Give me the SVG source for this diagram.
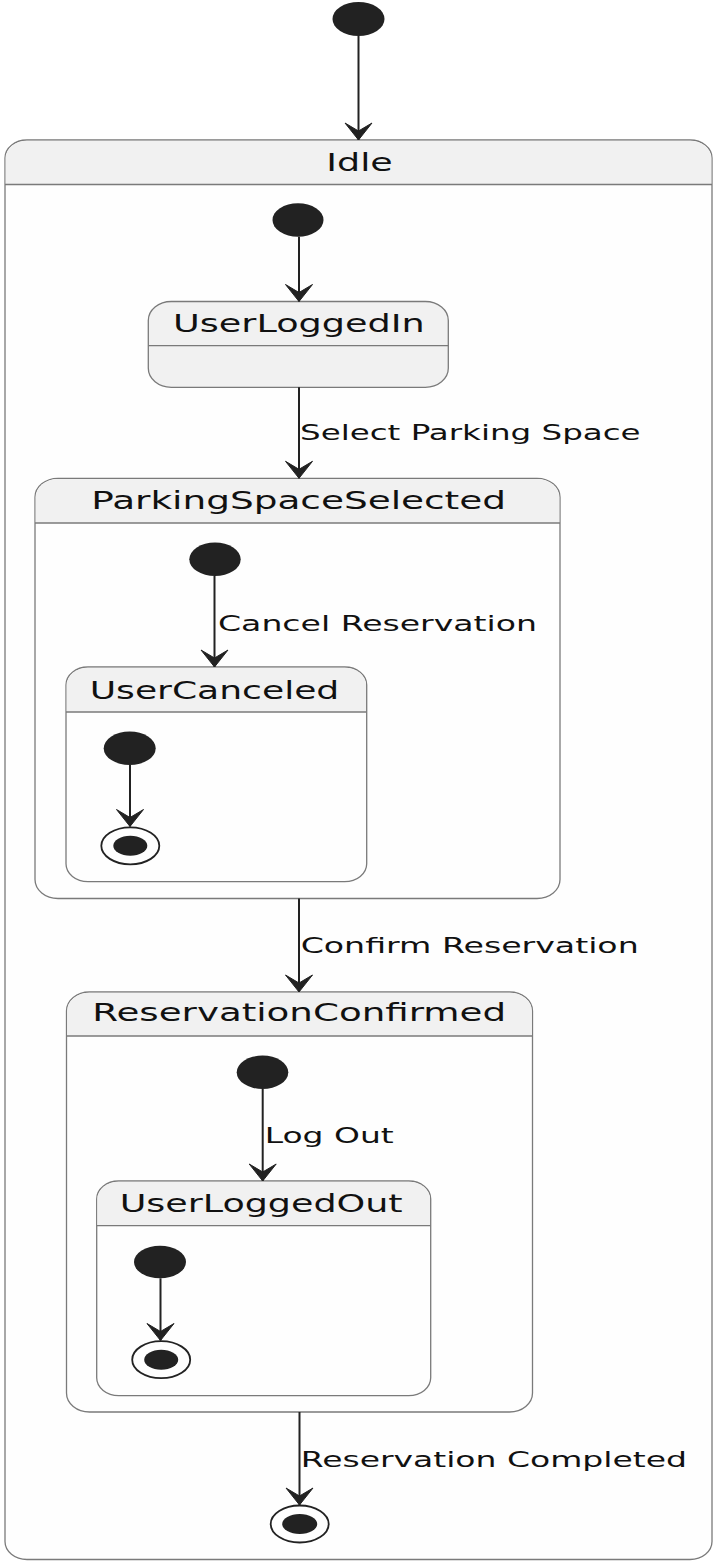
<svg xmlns="http://www.w3.org/2000/svg" width="713" height="1562" viewBox="0 0 713 1562">
  <style>
    .box { fill: #FEFEFE; stroke: #7A7A7A; stroke-width: 1.3; }
    .simple { fill: #F1F1F1; stroke: #7A7A7A; stroke-width: 1.3; }
    .head { fill: #F1F1F1; stroke: none; }
    .sep { stroke: #7A7A7A; stroke-width: 1.3; }
    .init { fill: #222222; }
    .final-ring { fill: #FEFEFE; stroke: #222222; stroke-width: 1.8; }
    .edge { stroke: #222222; stroke-width: 2; fill: none; marker-end: url(#arrow); }
    .name { font-family: "DejaVu Sans", sans-serif; font-size: 24px; fill: #111111; }
    .label { font-family: "DejaVu Sans", sans-serif; font-size: 22px; fill: #111111; }
  </style>
  <defs>
    <marker id="arrow" markerUnits="userSpaceOnUse" viewBox="-20 -15 22 30" refX="0" refY="0" markerWidth="22" markerHeight="30" orient="auto" overflow="visible">
      <path d="M0,0 L-17,-13.5 L-9,0 L-17,13.5 Z" fill="#222222" stroke="#222222" stroke-width="1" stroke-linejoin="miter"/>
    </marker>
  </defs>
  <rect width="713" height="1562" fill="#FFFFFF"/>

  <!-- top-level start -->
  <g id="start">
    <ellipse class="init" cx="358.5" cy="19" rx="26" ry="17"/>
  </g>

  <!-- Idle composite state -->
  <g id="Idle">
    <rect class="box" x="5" y="140" width="707" height="1419.5" rx="22" ry="18"/>
    <path class="head" d="M5.7,184.5 V158 A21.3,17.3 0 0 1 27,140.7 H690 A21.3,17.3 0 0 1 711.3,158 V184.5 Z"/>
    <line class="sep" x1="5" y1="184.5" x2="712" y2="184.5"/>
    <text class="name" x="326.3" y="170.7" textLength="66.4" lengthAdjust="spacingAndGlyphs">Idle</text>
  </g>

  <g id="Idle_start">
    <ellipse class="init" cx="298" cy="220" rx="25.5" ry="16.7"/>
  </g>

  <g id="UserLoggedIn">
    <rect class="simple" x="148.3" y="301.5" width="300" height="85.8" rx="23" ry="19"/>
    <line class="sep" x1="148.3" y1="345.7" x2="448.3" y2="345.7"/>
    <text class="name" x="173" y="331.7" textLength="251.7" lengthAdjust="spacingAndGlyphs">UserLoggedIn</text>
  </g>

  <!-- ParkingSpaceSelected composite state -->
  <g id="ParkingSpaceSelected">
    <rect class="box" x="35" y="478.3" width="525" height="420.2" rx="23" ry="19"/>
    <path class="head" d="M35.7,523 V497.3 A22.3,18.3 0 0 1 58,479 H537 A22.3,18.3 0 0 1 559.3,497.3 V523 Z"/>
    <line class="sep" x1="35" y1="523" x2="560" y2="523"/>
    <text class="name" x="91.3" y="509" textLength="414.7" lengthAdjust="spacingAndGlyphs">ParkingSpaceSelected</text>
  </g>

  <g id="ParkingSpaceSelected_start">
    <ellipse class="init" cx="215" cy="559.3" rx="25.7" ry="16.7"/>
  </g>

  <g id="UserCanceled">
    <rect class="box" x="66" y="667" width="300.7" height="214.7" rx="22" ry="18"/>
    <path class="head" d="M66.7,712 V685 A21.3,17.3 0 0 1 88,667.7 H344.7 A21.3,17.3 0 0 1 366,685 V712 Z"/>
    <line class="sep" x1="66" y1="712" x2="366.7" y2="712"/>
    <text class="name" x="89.7" y="699" textLength="249.6" lengthAdjust="spacingAndGlyphs">UserCanceled</text>
  </g>

  <g id="UserCanceled_start">
    <ellipse class="init" cx="129.7" cy="748.3" rx="26" ry="16.7"/>
  </g>

  <g id="UserCanceled_end">
    <ellipse class="final-ring" cx="130.3" cy="845.8" rx="29" ry="18.5"/>
    <ellipse class="init" cx="130.3" cy="845.8" rx="17" ry="10"/>
  </g>

  <!-- ReservationConfirmed composite state -->
  <g id="ReservationConfirmed">
    <rect class="box" x="66.5" y="992" width="466" height="420" rx="23" ry="19"/>
    <path class="head" d="M67.2,1036 V1011 A22.3,18.3 0 0 1 89.5,992.7 H509.5 A22.3,18.3 0 0 1 531.8,1011 V1036 Z"/>
    <line class="sep" x1="66.5" y1="1036" x2="532.5" y2="1036"/>
    <text class="name" x="92.3" y="1021" textLength="413.7" lengthAdjust="spacingAndGlyphs">ReservationConfirmed</text>
  </g>

  <g id="ReservationConfirmed_start">
    <ellipse class="init" cx="262.5" cy="1072.3" rx="25.8" ry="16.7"/>
  </g>

  <g id="UserLoggedOut">
    <rect class="box" x="96.7" y="1181" width="334" height="214.7" rx="22" ry="18"/>
    <path class="head" d="M97.4,1225.7 V1199 A21.3,17.3 0 0 1 118.7,1181.7 H408.7 A21.3,17.3 0 0 1 430,1199 V1225.7 Z"/>
    <line class="sep" x1="96.7" y1="1225.7" x2="430.7" y2="1225.7"/>
    <text class="name" x="119.7" y="1212.3" textLength="283" lengthAdjust="spacingAndGlyphs">UserLoggedOut</text>
  </g>

  <g id="UserLoggedOut_start">
    <ellipse class="init" cx="160" cy="1262" rx="26" ry="16.3"/>
  </g>

  <g id="UserLoggedOut_end">
    <ellipse class="final-ring" cx="161.2" cy="1359.7" rx="29" ry="18.5"/>
    <ellipse class="init" cx="161.2" cy="1359.7" rx="17" ry="10"/>
  </g>

  <g id="Idle_end">
    <ellipse class="final-ring" cx="299.7" cy="1524" rx="29" ry="18.5"/>
    <ellipse class="init" cx="299.7" cy="1524" rx="17.5" ry="10"/>
  </g>

  <!-- transitions -->
  <g id="connectors">
    <line class="edge" x1="358.5" y1="36" x2="358.5" y2="140"/>
    <line class="edge" x1="299" y1="236.7" x2="299" y2="301.5"/>
    <line class="edge" x1="299" y1="387.3" x2="299" y2="478.3"/>
    <line class="edge" x1="214.5" y1="576" x2="214.5" y2="667"/>
    <line class="edge" x1="130" y1="765" x2="130" y2="826.5"/>
    <line class="edge" x1="299" y1="898.5" x2="299" y2="992"/>
    <line class="edge" x1="262.7" y1="1089" x2="262.7" y2="1181"/>
    <line class="edge" x1="160.5" y1="1278.3" x2="160.5" y2="1340.5"/>
    <line class="edge" x1="299.5" y1="1412" x2="299.5" y2="1505"/>

    <text class="label" x="300" y="440" textLength="340.6" lengthAdjust="spacingAndGlyphs">Select Parking Space</text>
    <text class="label" x="218" y="630.7" textLength="319" lengthAdjust="spacingAndGlyphs">Cancel Reservation</text>
    <text class="label" x="300.7" y="953.3" textLength="338" lengthAdjust="spacingAndGlyphs">Confirm Reservation</text>
    <text class="label" x="264.7" y="1143.3" textLength="129" lengthAdjust="spacingAndGlyphs">Log Out</text>
    <text class="label" x="300.7" y="1466.7" textLength="386.3" lengthAdjust="spacingAndGlyphs">Reservation Completed</text>
  </g>
</svg>
